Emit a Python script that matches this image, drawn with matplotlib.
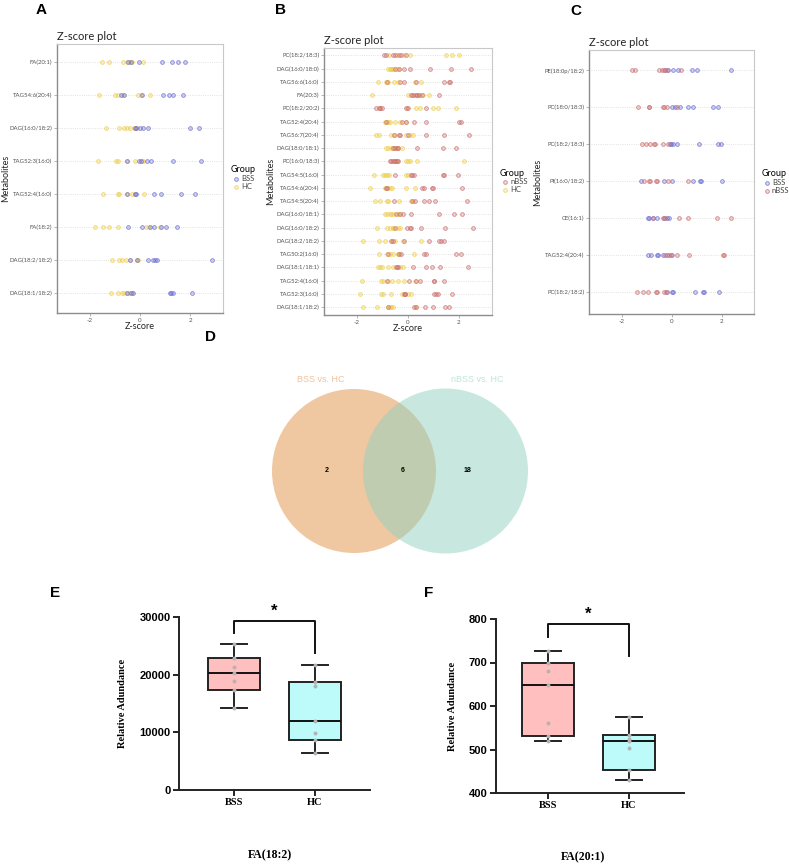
import numpy as np
import matplotlib.pyplot as plt
from matplotlib.colors import to_rgba
from matplotlib.patches import Circle

# ---- data: panel A (BSS vs HC), rows top to bottom
a_names = ["FA(20:1)", "TAG54:6(20:4)", "DAG(16:0/18:2)", "TAG52:3(16:0)",
           "TAG52:4(16:0)", "FA(18:2)", "DAG(18:2/18:2)", "DAG(18:1/18:2)"]
a_bss = [
    [-0.49, -0.36, -0.03, 0.89, 1.26, 1.51, 1.78],
    [-0.76, -0.63, 0.07, 0.92, 1.16, 1.33, 1.71],
    [-0.21, -0.16, 0.00, 0.13, 0.33, 1.97, 2.33],
    [-0.50, -0.03, 0.02, 0.26, 0.42, 1.32, 2.43],
    [-0.50, -0.18, -0.16, 0.57, 0.82, 1.62, 2.17],
    [-0.46, 0.09, 0.40, 0.57, 0.82, 1.05, 1.49],
    [-0.39, -0.11, 0.33, 0.50, 0.59, 0.66, 2.87],
    [-0.53, -0.37, -0.26, 1.18, 1.25, 1.32, 2.07],
]
a_hc = [
    [-1.51, -1.25, -0.68, -0.53, -0.39, -0.33, 0.11],
    [-1.64, -1.01, -0.86, -0.68, -0.09, 0.03, 0.39],
    [-1.34, -0.84, -0.63, -0.50, -0.39, -0.24, -0.11],
    [-1.68, -0.96, -0.86, -0.53, -0.20, 0.07, 0.13],
    [-1.49, -0.89, -0.82, -0.53, -0.33, -0.20, 0.17],
    [-1.80, -1.47, -1.22, -0.86, 0.22, 0.37, 0.79],
    [-1.12, -0.83, -0.70, -0.57, -0.39, -0.13, -0.07],
    [-1.16, -0.86, -0.70, -0.62, -0.53, -0.42, -0.33],
]

# ---- panel B (nBSS vs HC)
b_names = ["PC(18:2/18:3)", "DAG(16:0/18:0)", "TAG56:6(16:0)", "FA(20:3)",
           "PC(18:2/20:2)", "TAG52:4(20:4)", "TAG56:7(20:4)", "DAG(18:0/18:1)",
           "PC(16:0/18:3)", "TAG54:5(16:0)", "TAG54:6(20:4)", "TAG54:5(20:4)",
           "DAG(16:0/18:1)", "DAG(16:0/18:2)", "DAG(18:2/18:2)", "TAG50:2(16:0)",
           "DAG(18:1/18:1)", "TAG52:4(16:0)", "TAG52:3(16:0)", "DAG(18:1/18:2)"]
b_nbss = [
    [-0.95, -0.87, -0.58, -0.50, -0.35, -0.26, -0.06],
    [-0.52, -0.35, -0.17, 0.06, 0.88, 1.69, 2.47],
    [-0.84, -0.32, -0.17, 0.30, 1.40, 1.60, 1.65],
    [0.10, 0.19, 0.30, 0.35, 0.42, 0.55, 1.23],
    [-1.27, -1.13, -1.10, -1.04, -0.06, 0.00, 0.71],
    [-0.87, -0.22, -0.06, 0.22, 0.71, 2.01, 2.08],
    [-0.56, -0.35, -0.30, 0.00, 0.71, 1.40, 2.38],
    [-0.58, -0.50, -0.45, -0.39, 0.36, 1.36, 1.88],
    [-0.71, -0.65, -0.58, -0.52, -0.50, -0.45, -0.39],
    [-0.52, 0.13, 0.17, 0.22, 1.38, 1.40, 1.95],
    [-0.87, -0.81, 0.56, 0.62, 0.94, 0.97, 2.12],
    [-0.56, 0.17, 0.26, 0.62, 0.82, 1.08, 2.30],
    [-0.48, -0.30, -0.19, 0.13, 1.21, 1.82, 2.14],
    [-0.50, -0.03, 0.09, 0.13, 0.52, 1.47, 2.57],
    [-0.65, -0.58, -0.17, 0.84, 1.21, 1.30, 1.40],
    [-0.78, -0.35, -0.29, 0.62, 0.69, 1.88, 2.08],
    [-0.48, -0.43, -0.39, 0.19, 0.69, 0.95, 1.26, 2.34],
    [-0.81, 0.03, 0.30, 0.49, 1.01, 1.04, 1.40],
    [-0.17, -0.10, -0.10, 1.04, 1.10, 1.17, 1.73],
    [-0.78, 0.23, 0.30, 0.68, 0.97, 1.47, 1.60],
]
b_hc = [
    [-0.74, -0.45, -0.17, 0.09, 1.49, 1.73, 1.99],
    [-0.78, -0.71, -0.65, -0.62, -0.58, -0.45, -0.36],
    [-1.16, -0.87, -0.80, -0.55, -0.40, 0.29, 0.52],
    [-1.42, 0.00, 0.15, 0.25, 0.43, 0.60, 0.82],
    [-1.10, -0.03, 0.32, 0.49, 0.97, 1.17, 1.88],
    [-0.91, -0.84, -0.78, -0.71, -0.52, -0.32, -0.06],
    [-1.26, -1.13, -0.65, -0.50, -0.06, 0.06, 0.19],
    [-0.87, -0.78, -0.65, -0.60, -0.52, -0.39, -0.22],
    [-0.60, -0.45, -0.06, 0.00, 0.09, 0.35, 2.21],
    [-1.32, -1.00, -0.91, -0.81, -0.74, -0.06, 0.00],
    [-1.49, -0.91, -0.82, -0.70, -0.61, -0.06, 0.26],
    [-1.30, -1.10, -0.84, -0.78, -0.35, 0.13, 0.19],
    [-0.91, -0.82, -0.70, -0.65, -0.58, -0.39, -0.35],
    [-1.21, -0.82, -0.71, -0.60, -0.58, -0.39, -0.32],
    [-1.78, -1.14, -0.90, -0.61, -0.50, -0.19, 0.52],
    [-1.14, -0.84, -0.70, -0.58, -0.40, -0.39, 0.23],
    [-1.17, -1.10, -1.01, -0.78, -0.60, -0.32, -0.19],
    [-1.82, -1.06, -0.97, -0.78, -0.61, -0.39, -0.17, 0.26],
    [-1.88, -1.08, -0.97, -0.65, -0.22, 0.00, 0.13],
    [-1.75, -1.21, -0.78, -0.70, -0.65, -0.58, 0.32],
]

# ---- panel C (BSS vs nBSS)
c_names = ["PE(18:0p/18:2)", "PC(18:0/18:3)", "PC(18:2/18:3)", "PI(16:0/18:2)",
           "CE(16:1)", "TAG52:4(20:4)", "PC(18:2/18:2)"]
c_bss = [
    [-0.25, -0.13, 0.04, 0.27, 0.83, 1.03, 2.37],
    [0.00, 0.13, 0.33, 0.67, 0.84, 1.64, 1.87],
    [-0.07, -0.04, 0.04, 0.20, 1.11, 1.84, 1.97],
    [-1.23, -0.31, 0.03, 0.87, 1.13, 1.16, 2.00],
    [-0.93, -0.89, -0.76, -0.60, -0.31, -0.20, -0.09],
    [-0.93, -0.84, -0.60, -0.53, -0.36, -0.20, -0.04],
    [-0.20, 0.00, 0.07, 0.93, 1.24, 1.31, 1.91],
]
c_nbss = [
    [-1.57, -1.47, -0.49, -0.40, -0.31, -0.20, 0.37],
    [-1.36, -0.91, -0.89, -0.36, -0.30, -0.17, 0.20],
    [-1.17, -1.04, -0.87, -0.69, -0.67, -0.33, -0.13],
    [-1.09, -0.89, -0.87, -0.63, -0.60, -0.16, 0.64],
    [-0.73, -0.33, -0.27, 0.31, 0.64, 1.80, 2.37],
    [-0.27, -0.10, 0.00, 0.20, 0.71, 2.04, 2.09],
    [-1.40, -1.16, -0.93, -0.63, -0.60, -0.29, -0.23],
]

# ---- panel D venn counts
venn_sets = ["BSS vs. HC", "nBSS vs. HC"]
venn_counts = [2, 6, 18]

# ---- panels E / F relative abundance
groups = ["BSS", "HC"]
e_bss = [14300, 17400, 18900, 20300, 21300, 22900, 25300]
e_hc = [6500, 8700, 9800, 11900, 18000, 18700, 21600]
f_bss = [520, 530, 562, 648, 680, 700, 727]
f_hc = [430, 452, 503, 520, 525, 533, 575]
e_title = "FA(18:2)"
f_title = "FA(20:1)"

BLUE = "#6e6ed6"
YEL = "#efcf4a"
RED = "#cc7272"

W, H = 789, 865
fig = plt.figure(figsize=(W / 100, H / 100), dpi=100)


def px_axes(x0, y0, x1, y1):
    return fig.add_axes([x0 / W, 1 - y1 / H, (x1 - x0) / W, (y1 - y0) / H])


def zplot(ax, names, sets, labels, colors, ylab_x, xlabel=True):
    n = len(names)
    ypos = np.arange(n)[::-1]
    handles = []
    for rows, lab, col in zip(sets, labels, colors):
        xs = np.concatenate([np.asarray(r) for r in rows])
        ys = np.concatenate([np.full(len(r), y) for r, y in zip(rows, ypos)])
        sc = ax.scatter(xs, ys, s=7, facecolors=[to_rgba(col, 0.25)],
                        edgecolors=[to_rgba(col, 0.75)], linewidths=0.7,
                        label=lab, zorder=3)
        handles.append(sc)
    ax.set_xlim(-3.3, 3.3)
    ax.set_ylim(-0.6, n - 1 + 0.55)
    ax.set_yticks(ypos)
    ax.set_yticklabels(names, fontsize=4.3, color="#555555")
    ax.set_xticks([-2, 0, 2])
    ax.set_xticklabels(["-2", "0", "2"], fontsize=4.5, color="#555555")
    ax.tick_params(length=2, width=0.5, color="#999999", pad=1.5)
    ax.grid(axis="y", ls=":", color="#d8d8d8", lw=0.6)
    ax.set_axisbelow(True)
    for s in ["left", "bottom"]:
        ax.spines[s].set_color("#8c8c8c")
        ax.spines[s].set_linewidth(1.0)
    for s in ["top", "right"]:
        ax.spines[s].set_color("#c8c8c8")
        ax.spines[s].set_linewidth(0.8)
    ax.set_title("Z-score plot", loc="left", fontsize=8, pad=3, color="#222222")
    ax.set_ylabel("Metabolites", fontsize=6.5, color="#222222")
    ax.yaxis.set_label_coords(ylab_x, 0.5)
    if xlabel:
        ax.text(0.5, -0.05, "Z-score", transform=ax.transAxes, ha="center",
                va="center", fontsize=6.5, color="#222222")
    return handles


def group_legend(ax, handles, labels):
    leg = ax.legend(handles, labels, title="Group", loc="upper left",
                    bbox_to_anchor=(1.03, 0.56), frameon=False, fontsize=5.5,
                    title_fontsize=6.5, handletextpad=0.1, borderaxespad=0,
                    labelspacing=0.1, handlelength=1.2, alignment="left")
    for t in leg.get_texts():
        t.set_color("#444444")


plt.rcParams["font.family"] = ["Lato", "DejaVu Sans"]

axA = px_axes(57, 44, 223, 313)
hA = zplot(axA, a_names, [a_hc, a_bss], ["HC", "BSS"], [YEL, BLUE], -0.285)
group_legend(axA, hA[::-1], ["BSS", "HC"])

axB = px_axes(324, 48, 492, 315)
hB = zplot(axB, b_names, [b_hc, b_nbss], ["HC", "nBSS"], [YEL, RED], -0.29)
group_legend(axB, hB[::-1], ["nBSS", "HC"])

axC = px_axes(589, 50, 754, 314)
hC = zplot(axC, c_names, [c_bss, c_nbss], ["BSS", "nBSS"], [BLUE, RED], -0.285,
           xlabel=False)
group_legend(axC, hC, ["BSS", "nBSS"])

# ---- Venn
axD = px_axes(200, 345, 620, 560)
axD.set_xlim(200, 620)
axD.set_ylim(560, 345)
axD.axis("off")
axD.add_patch(Circle((354, 471), 82, facecolor="#e19143", alpha=0.5, lw=0))
axD.add_patch(Circle((445.5, 471), 82.5, facecolor="#91d1c1", alpha=0.5, lw=0))
axD.text(321, 379, venn_sets[0], ha="center", va="center", fontsize=6.5,
         color="#f0c29c", family=["Liberation Sans"])
axD.text(477, 379, venn_sets[1], ha="center", va="center", fontsize=6.5,
         color="#bfe5da", family=["Liberation Sans"])
for x, c in zip([327, 403, 467], venn_counts):
    axD.text(x, 471, str(c), ha="center", va="center", fontsize=5,
             weight="bold", family=["Liberation Sans"])


# ---- box panels
def boxpanel(ax, data, ylim, yticks, bracket, star_y, xlim, ylab_x):
    stats = []
    for d, g in zip(data, groups):
        d = np.asarray(d, dtype=float)
        q1, med, q3 = np.percentile(d, [25, 50, 75], method="weibull")
        stats.append(dict(med=med, q1=q1, q3=q3, whislo=d.min(), whishi=d.max(), label=g))
    lw = 1.4
    bp = ax.bxp(stats, positions=[1, 2], widths=0.65, showfliers=False,
                patch_artist=True,
                boxprops=dict(lw=lw, edgecolor="#222222"),
                medianprops=dict(lw=lw, color="#111111"),
                whiskerprops=dict(lw=lw, color="#222222"),
                capprops=dict(lw=lw, color="#222222"))
    for patch, fc in zip(bp["boxes"], ["#ffbfbf", "#bdfafa"]):
        patch.set_facecolor(fc)
    for i, d in enumerate(data):
        ax.scatter(np.full(len(d), i + 1), d, s=8, color="#b3b3b3", zorder=4, lw=0)
    ax.plot([1, 1, 2, 2], [bracket[0], bracket[1], bracket[1], bracket[2]],
            color="#111111", lw=lw, clip_on=False)
    ax.text(1.5, star_y, "*", ha="center", va="center", fontsize=12,
            weight="bold", clip_on=False, family=["Liberation Sans"])
    ax.set_xlim(*xlim)
    ax.set_ylim(*ylim)
    ax.set_yticks(yticks)
    ax.set_yticklabels([str(t) for t in yticks], fontsize=8, weight="bold",
                       family=["Liberation Sans"])
    ax.set_xticks([1, 2])
    ax.set_xticklabels(groups, fontsize=7.5, weight="bold", family=["Liberation Serif"])
    ax.tick_params(width=lw, length=4, color="#222222", pad=2)
    ax.spines["top"].set_visible(False)
    ax.spines["right"].set_visible(False)
    for s in ["left", "bottom"]:
        ax.spines[s].set_linewidth(lw)
        ax.spines[s].set_color("#222222")
    ax.set_ylabel("Relative Adundance", fontsize=7.5, weight="bold",
                  family=["Liberation Serif"])
    ax.yaxis.set_label_coords(ylab_x, 0.5)


axE = px_axes(179, 617, 370, 790)
boxpanel(axE, [e_bss, e_hc], (0, 30000), [0, 10000, 20000, 30000],
         [27200, 29300, 23700], 31000, (0.32, 2.68), -0.27)
axF = px_axes(496, 619, 684, 793)
boxpanel(axF, [f_bss, f_hc], (400, 800), [400, 500, 600, 700, 800],
         [759, 788, 715], 812, (0.36, 2.68), -0.21)

fig.text(270 / W, 1 - 855 / H, e_title, ha="center", va="center", fontsize=8.5,
         weight="bold", family=["Liberation Serif"])
fig.text(583 / W, 1 - 857 / H, f_title, ha="center", va="center", fontsize=8.5,
         weight="bold", family=["Liberation Serif"])

for lab, x, y in [("A", 41, 10), ("B", 281, 10), ("C", 576, 11), ("D", 211, 337),
                  ("E", 55, 593), ("F", 429, 593)]:
    fig.text(x / W, 1 - y / H, lab, ha="center", va="center", fontsize=11,
             weight="bold", family=["Liberation Sans"])

fig.savefig("out.png", dpi=100)
